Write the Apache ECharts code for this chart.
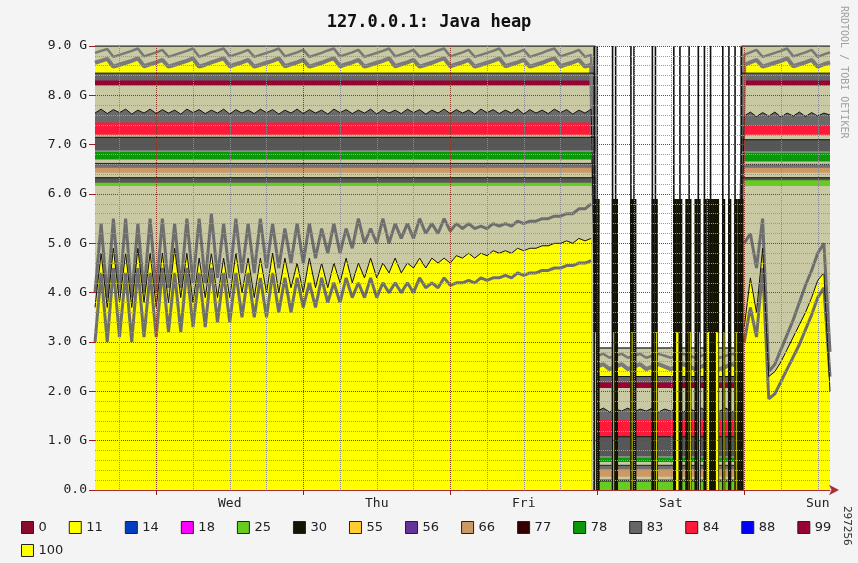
<!DOCTYPE html>
<html>
<head>
<meta charset="utf-8">
<title>127.0.0.1: Java heap</title>
<script src="https://cdn.jsdelivr.net/npm/echarts/dist/echarts.min.js"></script>
<style>
  html, body { margin: 0; padding: 0; background: #f4f4f4; }
  #chart { width: 858px; height: 563px; }
</style>
</head>
<body>
<div id="chart"></div>
<script>
// one sample per hour, first sample Tue 14:00, last one Sun 14:00
const dayNames = ['Tue', 'Wed', 'Thu', 'Fri', 'Sat', 'Sun'];
const firstHour = 14;
const hourCount = 121;

const legendRow1 = ['0', '11', '14', '18', '25', '30', '55', '56', '66', '77', '78', '83', '84', '88', '99'];
const legendRow2 = ['100'];

// pool 11: top of the yellow area (black line), G
const yellow11 = [
  3.7, 4.8, 3.7, 4.9, 3.8, 4.8, 3.7, 4.9, 3.8, 4.8,
  3.7, 4.8, 3.8, 4.9, 3.9, 4.8, 3.8, 4.7, 3.9, 4.8,
  3.9, 4.7, 3.9, 4.8, 4.0, 4.7, 3.9, 4.7, 4.0, 4.8,
  4.0, 4.7, 4.1, 4.6, 4.0, 4.7, 4.1, 4.6, 4.1, 4.6,
  4.2, 4.7, 4.2, 4.6, 4.3, 4.7, 4.3, 4.6, 4.4, 4.7,
  4.4, 4.6, 4.5, 4.7, 4.5, 4.7, 4.6, 4.7, 4.6, 4.75,
  4.7, 4.8, 4.7, 4.8, 4.75, 4.85, 4.8, 4.85, 4.8, 4.9,
  4.85, 4.9, 4.9, 4.95, 4.95, 5.0, 5.0, 5.05, 5.0, 5.1,
  5.05, 5.1,
  null, null, null, null, null, null, null, null, null, null, null, null,
  null, null, null, null, null, null, null, null, null, null, null, null,
  3.3, 4.3, 3.6, 4.9, 2.3, 2.4, 2.6, 2.85, 3.1, 3.35, 3.6, 3.9, 4.25, 4.4, 2.0
];

// thick grey line above the yellow
const upperGray = [
  4.0, 5.4, 3.9, 5.5, 4.0, 5.5, 3.9, 5.4, 4.0, 5.5,
  4.0, 5.5, 4.1, 5.4, 4.1, 5.5, 4.2, 5.5, 4.2, 5.6,
  4.3, 5.4, 4.3, 5.5, 4.4, 5.4, 4.4, 5.5, 4.5, 5.4,
  4.5, 5.3, 4.6, 5.4, 4.6, 5.4, 4.7, 5.3, 4.8, 5.4,
  4.8, 5.3, 4.9, 5.5, 5.0, 5.3, 5.0, 5.5, 5.0, 5.4,
  5.1, 5.4, 5.1, 5.5, 5.2, 5.4, 5.2, 5.5, 5.25, 5.4,
  5.3, 5.4, 5.3, 5.35, 5.3, 5.4, 5.35, 5.4, 5.35, 5.45,
  5.4, 5.45, 5.45, 5.5, 5.5, 5.55, 5.55, 5.6, 5.6, 5.7,
  5.7, 5.8,
  null, null, null, null, null, null, null, null, null, null, null, null,
  null, null, null, null, null, null, null, null, null, null, null, null,
  5.0, 5.2, 4.5, 5.5, 2.4, 2.55, 2.85, 3.15, 3.45, 3.8, 4.15, 4.45, 4.8, 5.0, 2.8
];

// thick grey line inside the yellow
const lowerGray = [
  3.0, 4.4, 3.0, 4.5, 3.1, 4.4, 3.0, 4.5, 3.1, 4.4,
  3.1, 4.5, 3.2, 4.4, 3.2, 4.5, 3.3, 4.4, 3.3, 4.5,
  3.4, 4.4, 3.4, 4.4, 3.5, 4.4, 3.5, 4.3, 3.5, 4.4,
  3.6, 4.3, 3.6, 4.3, 3.7, 4.2, 3.7, 4.3, 3.8, 4.2,
  3.8, 4.3, 3.9, 4.2, 3.9, 4.3, 3.9, 4.2, 4.0, 4.2,
  4.0, 4.2, 4.0, 4.3, 4.1, 4.2, 4.1, 4.3, 4.15, 4.2,
  4.2, 4.25, 4.2, 4.3, 4.25, 4.3, 4.3, 4.35, 4.3, 4.4,
  4.35, 4.4, 4.4, 4.45, 4.45, 4.5, 4.5, 4.55, 4.55, 4.6,
  4.6, 4.65,
  null, null, null, null, null, null, null, null, null, null, null, null,
  null, null, null, null, null, null, null, null, null, null, null, null,
  3.0, 3.7, 3.1, 4.5, 1.85, 1.95, 2.2, 2.45, 2.7, 2.95, 3.25, 3.55, 3.9, 4.1, 2.3
];

// pool 100: sawtooth top of the upper yellow band
const yellow100 = [
  8.66, 8.70, 8.74, 8.58, 8.62, 8.66, 8.70, 8.75, 8.59, 8.63,
  8.67, 8.72, 8.58, 8.62, 8.66, 8.70, 8.75, 8.58, 8.62, 8.67,
  8.71, 8.75, 8.59, 8.63, 8.67, 8.72, 8.58, 8.62, 8.66, 8.70,
  8.75, 8.59, 8.63, 8.67, 8.72, 8.58, 8.62, 8.66, 8.71, 8.75,
  8.59, 8.63, 8.67, 8.72, 8.58, 8.62, 8.66, 8.70, 8.75, 8.59,
  8.63, 8.67, 8.72, 8.58, 8.62, 8.66, 8.71, 8.75, 8.59, 8.63,
  8.67, 8.72, 8.58, 8.62, 8.66, 8.70, 8.75, 8.59, 8.63, 8.67,
  8.72, 8.58, 8.62, 8.66, 8.71, 8.75, 8.59, 8.63, 8.67, 8.72,
  8.58, 8.62,
  2.50, 2.55, 2.45, 2.50, 2.55, 2.45, 2.50, 2.55, 2.45, 2.50, 2.55, 2.50,
  2.45, 2.50, 2.55, 2.50, 2.45, 2.50, 2.55, 2.50, 2.45, 2.50, 2.55, 2.50,
  8.62, 8.67, 8.72, 8.58, 8.62, 8.66, 8.70, 8.75, 8.59, 8.63, 8.67, 8.72, 8.58, 8.63, 8.67
];

// grey sawtooth line near the top of the heap
const grayTop = [
  8.86, 8.90, 8.94, 8.78, 8.82, 8.86, 8.90, 8.95, 8.79, 8.83,
  8.87, 8.92, 8.78, 8.82, 8.86, 8.90, 8.95, 8.78, 8.82, 8.87,
  8.91, 8.95, 8.79, 8.83, 8.87, 8.92, 8.78, 8.82, 8.86, 8.90,
  8.95, 8.79, 8.83, 8.87, 8.92, 8.78, 8.82, 8.86, 8.91, 8.95,
  8.79, 8.83, 8.87, 8.92, 8.78, 8.82, 8.86, 8.90, 8.95, 8.79,
  8.83, 8.87, 8.92, 8.78, 8.82, 8.86, 8.91, 8.95, 8.79, 8.83,
  8.87, 8.92, 8.78, 8.82, 8.86, 8.90, 8.95, 8.79, 8.83, 8.87,
  8.92, 8.78, 8.82, 8.86, 8.91, 8.95, 8.79, 8.83, 8.87, 8.92,
  8.78, 8.82,
  2.72, 2.76, 2.68, 2.72, 2.76, 2.68, 2.72, 2.76, 2.68, 2.72, 2.76, 2.72,
  2.68, 2.72, 2.76, 2.72, 2.68, 2.72, 2.76, 2.72, 2.68, 2.72, 2.76, 2.72,
  8.82, 8.87, 8.92, 8.78, 8.82, 8.86, 8.90, 8.95, 8.79, 8.83, 8.87, 8.92, 8.78, 8.83, 8.87
];

// grey jagged band sitting on the red pool
const grayJagged = [
  7.64, 7.72, 7.63, 7.71, 7.65, 7.72, 7.62, 7.70, 7.64, 7.72,
  7.63, 7.71, 7.64, 7.70, 7.62, 7.72, 7.65, 7.71, 7.63, 7.70,
  7.64, 7.72, 7.62, 7.71, 7.64, 7.70, 7.63, 7.72, 7.65, 7.71,
  7.62, 7.70, 7.64, 7.72, 7.63, 7.71, 7.64, 7.70, 7.62, 7.72,
  7.65, 7.71, 7.63, 7.70, 7.64, 7.72, 7.62, 7.71, 7.64, 7.70,
  7.63, 7.72, 7.65, 7.71, 7.62, 7.70, 7.64, 7.72, 7.63, 7.71,
  7.64, 7.70, 7.62, 7.72, 7.65, 7.71, 7.63, 7.70, 7.64, 7.72,
  7.62, 7.71, 7.64, 7.70, 7.63, 7.72, 7.65, 7.71, 7.62, 7.70,
  7.64, 7.72,
  1.60, 1.66, 1.58, 1.64, 1.60, 1.66, 1.58, 1.64, 1.60, 1.66, 1.58, 1.64,
  1.60, 1.66, 1.58, 1.64, 1.60, 1.66, 1.58, 1.64, 1.60, 1.66, 1.58, 1.64,
  7.58, 7.66, 7.57, 7.65, 7.58, 7.66, 7.56, 7.64, 7.58, 7.66, 7.57, 7.65, 7.58, 7.64, 7.60
];

// flat bands: normal level, then the Saturday collapse, then normal again
const bandHours = [0, 81.6, 81.6, 105.6, 105.6, 120];
const topFree = [9.0, 9.0, 2.88, 2.88, 9.0, 9.0];
const gray83a = [8.45, 8.45, 2.3, 2.3, 8.45, 8.45];
const maroon99 = [8.3, 8.3, 2.18, 2.18, 8.3, 8.3];
const freeB = [8.2, 8.2, 2.07, 2.07, 8.2, 8.2];
const red84 = [7.45, 7.45, 1.42, 1.42, 7.4, 7.4];
const freeC = [7.2, 7.2, 1.08, 1.08, 7.2, 7.2];
const gray83b = [7.15, 7.15, 1.08, 1.08, 7.1, 7.1];
const green78 = [6.87, 6.87, 0.67, 0.67, 6.85, 6.85];
const freeD = [6.7, 6.7, 0.57, 0.57, 6.66, 6.66];
const gray83c = [6.62, 6.62, 0.5, 0.5, 6.6, 6.6];
const tan66 = [6.53, 6.53, 0.42, 0.42, 6.53, 6.53];
const freeE = [6.43, 6.43, 0.27, 0.27, 6.43, 6.43];
const gray83d = [6.33, 6.33, 0.2, 0.2, 6.33, 6.33];
const green25 = [6.23, 6.23, 0.16, 0.16, 6.28, 6.28];
const freeF = [6.16, 6.16, 0, 0, 6.16, 6.16];

// Saturday flapping, half-hour cells
const satHours = [
  81.5, 82, 82.5, 83, 83.5, 84, 84.5, 85, 85.5, 86,
  86.5, 87, 87.5, 88, 88.5, 89, 89.5, 90, 90.5, 91,
  91.5, 92, 92.5, 93, 93.5, 94, 94.5, 95, 95.5, 96,
  96.5, 97, 97.5, 98, 98.5, 99, 99.5, 100, 100.5, 101,
  101.5, 102, 102.5, 103, 103.5, 104, 104.5, 105, 105.5
];
const satBlack = [
  5.9, 5.9, null, null, null, null, 5.9, 5.9, null, null,
  null, null, 5.9, 5.9, null, null, null, null, null, 5.9,
  5.9, null, null, null, null, null, 5.9, 5.9, 5.9, null,
  5.9, 5.9, null, 5.9, 5.9, null, 5.9, 5.9, 5.9, 5.9,
  5.9, null, 5.9, null, 5.9, null, 5.9, 5.9, 5.9
];
const satYellow = [
  3.2, null, null, null, null, null, 3.2, null, null, null,
  null, null, 3.2, null, null, null, null, null, null, null,
  3.2, null, null, null, null, null, null, 3.2, null, null,
  null, 3.2, null, null, 3.2, null, null, 3.2, null, null,
  3.2, null, 3.2, null, null, null, 3.2, null, null
];
const satLine = [
  9, 9, null, null, null, null, 9, 9, null, null,
  null, null, 9, 9, null, null, null, null, null, 9,
  9, null, null, null, null, null, 9, null, 9, null,
  null, 9, null, null, 9, null, 9, null, 9, null,
  null, null, 9, null, 9, null, 9, null, 9
];

const hourLabels = [];
for (let i = 0; i < hourCount; i++) {
  const t = firstHour + i;
  hourLabels.push(dayNames[Math.floor(t / 24)] + ' ' + (t % 24) + ':00');
}
const hourOfDay = i => (firstHour + i) % 24;

const hourly = arr => arr.map((v, i) => [i, v]);
const band = arr => bandHours.map((h, i) => [h, arr[i]]);
const sat = arr => satHours.map((h, i) => [h, arr[i]]);

const khaki = '#c9c9a3';
const gray = '#6e6e6e';

function area(name, color, data, lineStyle) {
  return {
    name, type: 'line', data, color, symbol: 'none', silent: true, z: 2,
    itemStyle: { color },
    lineStyle: lineStyle || { width: 0, opacity: 0 },
    areaStyle: { color, opacity: 1 }
  };
}
function line(name, color, width, data) {
  return {
    name, type: 'line', data, color, symbol: 'none', silent: true, z: 3,
    lineStyle: { color, width }
  };
}
function bars(name, color, width, data, z) {
  return {
    name, type: 'bar', data, color, itemStyle: { color }, z,
    barWidth: width, barGap: '-100%', silent: true
  };
}
function empty(name, color) {
  return { name, type: 'line', data: [], color, itemStyle: { color } };
}

const series = [
  area('free', khaki, band(topFree), { color: '#3a3a3a', width: 1.5 }),
  Object.assign(line('saw', '#787878', 2.5, hourly(grayTop)), { z: 2 }),
  area('100', '#ffff00', hourly(yellow100), { color: '#7a7a7a', width: 4 }),
  area('83', '#666666', band(gray83a), { color: '#111', width: 1 }),
  area('99', '#990033', band(maroon99)),
  area('free', khaki, band(freeB)),
  area('83', '#6a6a6a', hourly(grayJagged), { color: '#111', width: 1 }),
  area('84', '#ff1a3c', band(red84)),
  area('free', khaki, band(freeC)),
  area('83', '#575757', band(gray83b), { color: '#111', width: 1 }),
  area('78', '#0a990a', band(green78), { color: '#b0b0b0', width: 1 }),
  area('free', khaki, band(freeD)),
  area('83', '#707070', band(gray83c), { color: '#222', width: 1 }),
  area('66', '#cc9966', band(tan66)),
  area('free', khaki, band(freeE)),
  area('83', '#575757', band(gray83d), { color: '#111', width: 1 }),
  area('25', '#66cc22', band(green25)),
  area('free', khaki, band(freeF)),
  area('11', '#ffff00', hourly(yellow11)),
  line('max', gray, 3, hourly(upperGray)),
  line('min', gray, 3, hourly(lowerGray)),
  line('used', '#111111', 1, hourly(yellow11)),
  bars('30', '#141400', 3.2, sat(satBlack), 4),
  bars('11', '#ffff00', 2.4, sat(satYellow), 4.5),
  bars('edge', '#111111', 1.6, sat(satLine), 4.6),
  empty('0', '#8a0a2a'),
  empty('14', '#0040c0'),
  empty('18', '#ff00ff'),
  empty('55', '#ffcc33'),
  empty('56', '#663399'),
  empty('77', '#330000'),
  empty('88', '#0000ff')
];

const legendBase = {
  left: 16, width: 840, itemWidth: 12, itemHeight: 12, itemGap: 22, icon: 'rect',
  selectedMode: false,
  itemStyle: { borderColor: '#222', borderWidth: 1 },
  textStyle: { color: '#222', fontSize: 13, fontFamily: 'DejaVu Sans' }
};

const chart = echarts.init(document.getElementById('chart'), null, { renderer: 'canvas' });
chart.setOption({
  animation: false,
  backgroundColor: '#f4f4f4',
  title: {
    text: '127.0.0.1: Java heap', left: 'center', top: 9,
    textStyle: { fontFamily: 'DejaVu Sans Mono', fontWeight: 'bold', fontSize: 17, color: '#111' }
  },
  grid: {
    left: 95, right: 28, top: 46, bottom: 73, show: true,
    backgroundColor: '#ffffff', borderWidth: 0, outerBoundsMode: 'none'
  },
  legend: [
    Object.assign({ data: legendRow1, top: 516 }, legendBase),
    Object.assign({ data: legendRow2, top: 539 }, legendBase)
  ],
  xAxis: [
    { type: 'value', min: 0, max: hourCount - 1, show: false },
    {
      type: 'category', data: hourLabels, boundaryGap: false, position: 'bottom', z: 6,
      axisLine: {
        show: true, lineStyle: { color: '#a83030', width: 1 },
        symbol: ['none', 'arrow'], symbolSize: [8, 10], symbolOffset: [0, 9]
      },
      axisTick: { show: true, length: 5, interval: i => hourOfDay(i) === 0, lineStyle: { color: '#8a2020' } },
      axisLabel: {
        interval: i => hourOfDay(i) === 12, formatter: v => v.split(' ')[0],
        color: '#222', fontFamily: 'DejaVu Sans Mono', fontSize: 13, margin: 7
      },
      splitLine: { show: true, interval: i => hourOfDay(i) === 0, lineStyle: { color: '#8a3a2a', type: 'dotted' } }
    },
    {
      type: 'category', data: hourLabels, boundaryGap: false, position: 'top', z: 6,
      axisLine: { show: false }, axisTick: { show: false }, axisLabel: { show: false },
      splitLine: {
        show: true, interval: i => hourOfDay(i) % 6 === 0 && hourOfDay(i) !== 0,
        lineStyle: { color: '#8c8c8c', type: 'dotted' }
      }
    }
  ],
  yAxis: {
    type: 'value', min: 0, max: 9, interval: 1, z: 6,
    axisLine: { show: false },
    axisTick: { show: true, length: 6, lineStyle: { color: '#9a2020' } },
    axisLabel: {
      formatter: v => v === 0 ? '0.0' : v.toFixed(1) + ' G',
      color: '#222', fontFamily: 'DejaVu Sans Mono', fontSize: 13, margin: 8
    },
    splitLine: { show: true, lineStyle: { color: '#a03028', type: 'dotted' } },
    minorTick: { show: false, splitNumber: 5 },
    minorSplitLine: { show: true, lineStyle: { color: '#9a9a9a', type: 'dotted' } }
  },
  graphic: [
    {
      type: 'text', x: 849, y: 6, rotation: -Math.PI / 2,
      style: { text: 'RRDTOOL / TOBI OETIKER', fill: '#a0a0a0', font: '10px "DejaVu Sans Mono"' }
    },
    {
      type: 'text', x: 852, y: 506, rotation: -Math.PI / 2,
      style: { text: '297256', fill: '#333', font: '11px "DejaVu Sans Mono"' }
    }
  ],
  series
});
</script>
</body>
</html>
